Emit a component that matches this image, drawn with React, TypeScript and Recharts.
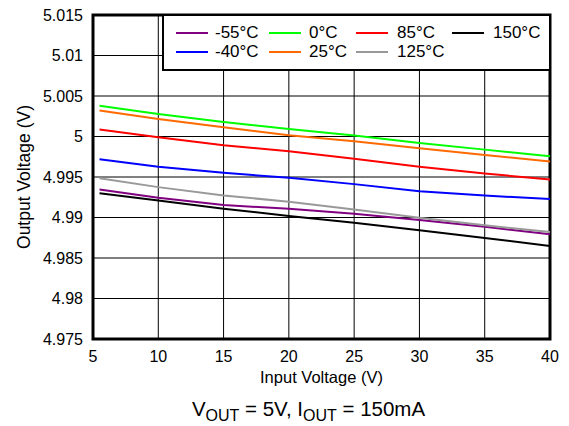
import React from "react";
import { LineChart, Line, XAxis, YAxis, CartesianGrid, ReferenceArea } from "recharts";

const vin = [5.5, 10, 15, 20, 25, 30, 35, 40];
const m55 = [4.99346, 4.99244, 4.99153, 4.99108, 4.99047, 4.98969, 4.98887, 4.98792];
const m40 = [4.99719, 4.99626, 4.99552, 4.9949, 4.99412, 4.99325, 4.99272, 4.99227];
const c0 = [5.0038, 5.00278, 5.00179, 5.00093, 5.00011, 4.99921, 4.99838, 4.99756];
const c25 = [5.0032, 5.00216, 5.00113, 5.00015, 4.99941, 4.99855, 4.99773, 4.99691];
const c85 = [5.00085, 4.9999, 4.99892, 4.99818, 4.99724, 4.99626, 4.99543, 4.99469];
const c125 = [4.99485, 4.99375, 4.99272, 4.99195, 4.991, 4.98998, 4.98903, 4.98821];
const c150 = [4.993, 4.99211, 4.99109, 4.99018, 4.98936, 4.98842, 4.98747, 4.98648];

const xTicks = [5, 10, 15, 20, 25, 30, 35, 40];
const yTicks = [4.975, 4.98, 4.985, 4.99, 4.995, 5, 5.005, 5.01, 5.015];

const series = [
  { key: "m55", name: "-55°C", values: m55, color: "#800080" },
  { key: "c0", name: "0°C", values: c0, color: "#00ff00" },
  { key: "c85", name: "85°C", values: c85, color: "#ff0000" },
  { key: "c150", name: "150°C", values: c150, color: "#000000" },
  { key: "m40", name: "-40°C", values: m40, color: "#0000ff" },
  { key: "c25", name: "25°C", values: c25, color: "#ff6a00" },
  { key: "c125", name: "125°C", values: c125, color: "#999999" },
];

const data = vin.map((v, i) => {
  const row: Record<string, number> = { vin: v };
  series.forEach((s) => (row[s.key] = s.values[i]));
  return row;
});

const FONT = "'Liberation Sans', Arial, Helvetica, sans-serif";
const legendCols = [176, 269, 356, 452];
const legendGap = [7, 8, 9, 9];
const legendRows = [33, 52];

export default function App() {
  return (
    <div style={{ position: "absolute", left: 0, top: 0, width: 569, height: 426, background: "#fff", fontFamily: FONT }}>
      <LineChart width={569} height={426} data={data} margin={{ top: 15, right: 19, bottom: 40, left: 18 }}>
        <CartesianGrid stroke="#000" strokeWidth={1} horizontalValues={yTicks} verticalValues={xTicks} />
        <XAxis
          dataKey="vin"
          type="number"
          domain={[5, 40]}
          ticks={xTicks}
          height={47}
          axisLine={false}
          tickLine={false}
          tickSize={0}
          tickMargin={12}
          tick={{ fill: "#000", fontSize: 16, fontFamily: FONT }}
          label={{ value: "Input Voltage (V)", position: "insideBottom", offset: 3, fill: "#000", fontSize: 16.5, fontFamily: FONT }}
        />
        <YAxis
          type="number"
          domain={[4.975, 5.015]}
          ticks={yTicks}
          width={75}
          axisLine={false}
          tickLine={false}
          tickSize={0}
          tickMargin={10}
          tickFormatter={(v: number) => String(+v.toFixed(3))}
          tick={{ fill: "#000", fontSize: 16, fontFamily: FONT }}
          label={{ value: "Output Voltage (V)", angle: -90, position: "insideLeft", offset: 6, fill: "#000", fontSize: 17.5, fontFamily: FONT, style: { textAnchor: "middle" } }}
        />
        {series.map((s) => (
          <Line key={s.key} dataKey={s.key} name={s.name} stroke={s.color} strokeWidth={2} dot={false} isAnimationActive={false} type="linear" />
        ))}
        <ReferenceArea x1={5} x2={40} y1={4.975} y2={5.015} fill="none" stroke="#000" strokeWidth={3} ifOverflow="visible" />
      </LineChart>
      <div style={{ position: "absolute", left: 162, top: 14, width: 389, height: 57, border: "2px solid #000", boxSizing: "border-box", background: "#fff" }} />
      {series.map((s, i) => {
        const col = i % 4;
        const row = Math.floor(i / 4);
        return (
          <div key={s.key} style={{ position: "absolute", left: legendCols[col], top: legendRows[row] - 10, height: 20, display: "flex", alignItems: "center", whiteSpace: "nowrap" }}>
            <svg width={32} height={4} style={{ marginRight: legendGap[col] }}>
              <line x1={0} y1={2} x2={32} y2={2} stroke={s.color} strokeWidth={2} />
            </svg>
            <span style={{ fontSize: 17, color: "#000", lineHeight: "20px" }}>{s.name}</span>
          </div>
        );
      })}
      <svg style={{ position: "absolute", left: 0, top: 0 }} width={569} height={426}>
        <text x={308.5} y={416} textAnchor="middle" fontFamily={FONT} fontSize={20.5} fill="#000">
          <tspan>V</tspan>
          <tspan fontSize={16} dy={5}>OUT</tspan>
          <tspan dy={-5}> = 5V, I</tspan>
          <tspan fontSize={16} dy={5}>OUT</tspan>
          <tspan dy={-5}> = 150mA</tspan>
        </text>
      </svg>
    </div>
  );
}
